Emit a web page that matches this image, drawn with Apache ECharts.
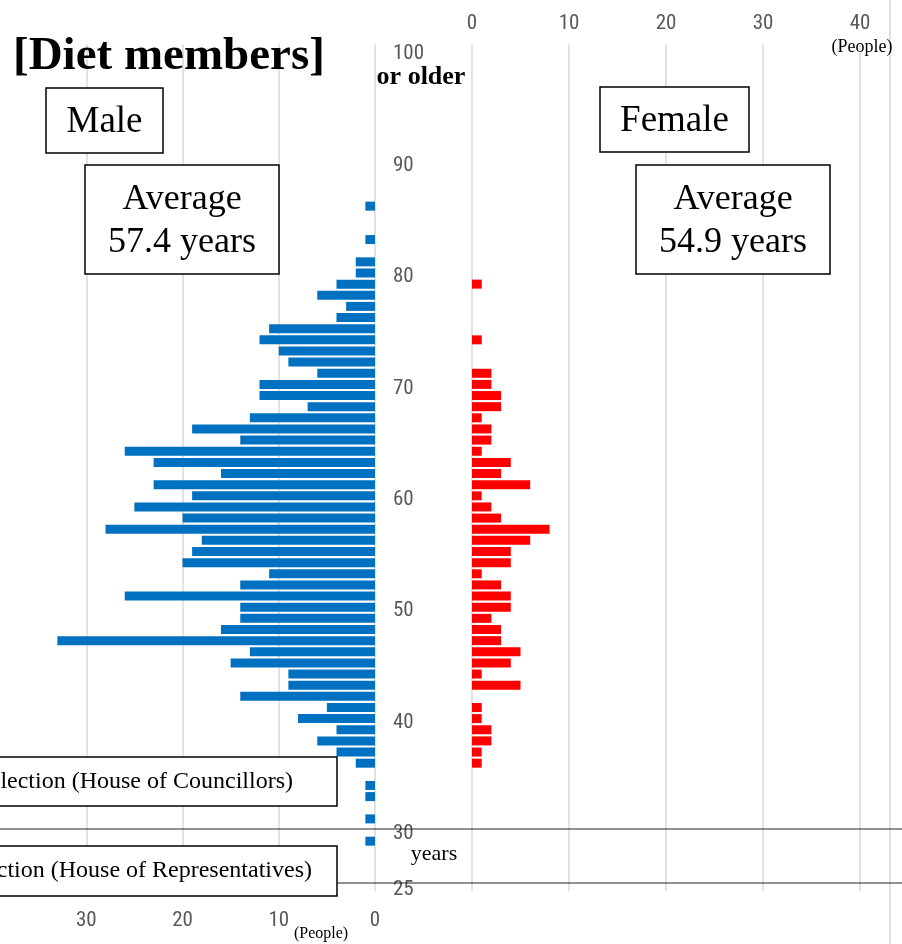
<!DOCTYPE html>
<html>
<head>
<meta charset="utf-8">
<script src="https://cdn.jsdelivr.net/npm/echarts@6/dist/echarts.min.js"></script>
<style>
html,body{margin:0;padding:0;background:#fff;}
#c{width:902px;height:944px;}
</style>
</head>
<body>
<div id="c"></div>
<script>
// Age categories (25 .. 100 or older)
const ages = [];
for (let a = 25; a <= 100; a++) ages.push(String(a));

// Number of male members per age, from age 25 up to 100
const maleCounts = [
  0,0,0,0,1, 0,1,0,1,1,       // 25-34
  0,2,4,6,4, 8,5,14,9,9,      // 35-44
  15,13,33,16,14, 14,26,14,11,20, // 45-54
  19,18,28,20,25, 19,23,16,23,26, // 55-64
  14,19,13,7,12, 12,6,9,10,12,    // 65-74
  11,4,3,6,4, 2,2,0,1,0,          // 75-84
  0,1,0,0,0, 0,0,0,0,0,           // 85-94
  0,0,0,0,0, 0                    // 95-100
];

// Number of female members per age, from age 25 up to 100
const femaleCounts = [
  0,0,0,0,0, 0,0,0,0,0,       // 25-34
  0,1,1,2,2, 1,1,0,5,1,       // 35-44
  4,5,3,3,2, 4,4,3,1,4,       // 45-54
  4,6,8,3,2, 1,6,3,4,1,       // 55-64
  2,2,1,3,3, 2,2,0,0,1,       // 65-74
  0,0,0,0,1, 0,0,0,0,0,       // 75-84
  0,0,0,0,0, 0,0,0,0,0,       // 85-94
  0,0,0,0,0, 0                // 95-100
];

const peopleTicks = [0, 10, 20, 30, 40];
const ageTickLabels = ['25','30','40','50','60','70','80','90','100'];

const tickFont = "'Liberation Sans Narrow', 'Roboto Condensed', Roboto, sans-serif";
const serif = "'Liberation Serif', 'DejaVu Serif', serif";
const tickColor = '#595959';
const gridColor = '#d9d9d9';

const gridTop = 44.6, gridHeight = 846.7;

const chart = echarts.init(document.getElementById('c'), null, {renderer: 'canvas'});

function textEl(text, x, y, size, opts) {
  opts = opts || {};
  return {
    type: 'text', x: x, y: y, z: 100,
    style: Object.assign({
      text: text,
      font: (opts.bold ? 'bold ' : '') + size + 'px ' + serif,
      fill: '#000',
      textAlign: opts.align || 'center',
      textVerticalAlign: 'middle'
    }, opts.style || {})
  };
}
function rectEl(x, y, w, h, stroke) {
  return {
    type: 'rect', z: 90,
    shape: {x: x, y: y, width: w, height: h},
    style: {fill: '#fff', stroke: stroke === false ? null : '#000', lineWidth: 1.5}
  };
}
function lineEl(x1, y1, x2, y2, color, w) {
  return {
    type: 'line', z: 95,
    shape: {x1: x1, y1: y1, x2: x2, y2: y2},
    style: {stroke: color, lineWidth: w}
  };
}

const option = {
  animation: false,
  backgroundColor: '#fff',
  grid: [
    {left: -10, width: 385, top: gridTop, height: gridHeight, containLabel: false, outerBoundsMode: 'none'},
    {left: 472, width: 388, top: gridTop, height: gridHeight, containLabel: false, outerBoundsMode: 'none'},
    // thin grid carrying only the age labels between the two halves
    {left: 374, width: 1, top: gridTop + 4, height: gridHeight, containLabel: false, outerBoundsMode: 'none'}
  ],
  xAxis: [
    {
      gridIndex: 0, type: 'value', min: 0, max: 40, interval: 10, inverse: true, position: 'bottom',
      axisLine: {show: false}, axisTick: {show: false},
      axisLabel: {color: tickColor, fontSize: 21, fontFamily: tickFont, margin: 18.5,
        formatter: v => peopleTicks.indexOf(v) >= 0 ? String(v) : ''},
      splitLine: {show: true, lineStyle: {color: gridColor, width: 1.5}}
    },
    {
      gridIndex: 1, type: 'value', min: 0, max: 40, interval: 10, position: 'top',
      axisLine: {show: false}, axisTick: {show: false},
      axisLabel: {color: tickColor, fontSize: 21, fontFamily: tickFont, margin: 10,
        formatter: v => peopleTicks.indexOf(v) >= 0 ? String(v) : ''},
      splitLine: {show: true, lineStyle: {color: gridColor, width: 1.5}}
    },
    {
      gridIndex: 2, type: 'value', show: false, min: 0, max: 1
    }
  ],
  yAxis: [
    {
      gridIndex: 0, type: 'category', data: ages, boundaryGap: true,
      axisLine: {show: false}, axisTick: {show: false}, splitLine: {show: false},
      axisLabel: {show: false}
    },
    {
      gridIndex: 1, type: 'category', data: ages, boundaryGap: true,
      axisLine: {show: false}, axisTick: {show: false}, splitLine: {show: false},
      axisLabel: {show: false}
    },
    {
      gridIndex: 2, type: 'category', data: ages, position: 'right', boundaryGap: true,
      axisLine: {show: false}, axisTick: {show: false}, splitLine: {show: false},
      axisLabel: {
        color: tickColor, fontSize: 21, fontFamily: tickFont, margin: 18, align: 'left',
        interval: (i, v) => ageTickLabels.indexOf(v) >= 0
      }
    }
  ],
  series: [
    {
      name: 'Male', type: 'bar', xAxisIndex: 0, yAxisIndex: 0,
      data: maleCounts, barWidth: 9,
      itemStyle: {color: '#0070C0'}
    },
    {
      name: 'Female', type: 'bar', xAxisIndex: 1, yAxisIndex: 1,
      data: femaleCounts, barWidth: 9,
      itemStyle: {color: '#FF0000'}
    }
  ],
  graphic: {
    elements: [
      lineEl(890, 0, 890, 944, gridColor, 1.5),
      textEl('[Diet members]', 13, 57, 47, {bold: true, align: 'left'}),
      textEl('or older', 421, 77, 26, {bold: true}),
      textEl('(People)', 862, 47, 18),
      textEl('(People)', 321, 934, 16),
      rectEl(46, 88, 117, 65),
      textEl('Male', 104.5, 122, 37),
      rectEl(600, 87, 149, 65),
      textEl('Female', 674.5, 121, 37),
      rectEl(85, 165, 194, 109),
      textEl('Average', 182, 200, 36),
      textEl('57.4 years', 182, 243, 36),
      rectEl(636, 165, 194, 109),
      textEl('Average', 733, 200, 36),
      textEl('54.9 years', 733, 243, 36),
      lineEl(0, 829, 902, 829, '#222', 1.2),
      lineEl(337, 883, 902, 883, '#222', 1.2),
      rectEl(-10, 757, 347, 49),
      textEl('Eligibility age for election (House of Councillors)', 293, 782, 24, {align: 'right'}),
      rectEl(-10, 846, 347, 50),
      textEl('Eligibility age for election (House of Representatives)', 312, 871, 24, {align: 'right'}),
      {type: 'rect', z: 96, shape: {x: 377, y: 850, width: 92, height: 25}, style: {fill: '#fff'}},
      textEl('years', 434, 854, 22)
    ]
  }
};
chart.setOption(option);
</script>
</body>
</html>
